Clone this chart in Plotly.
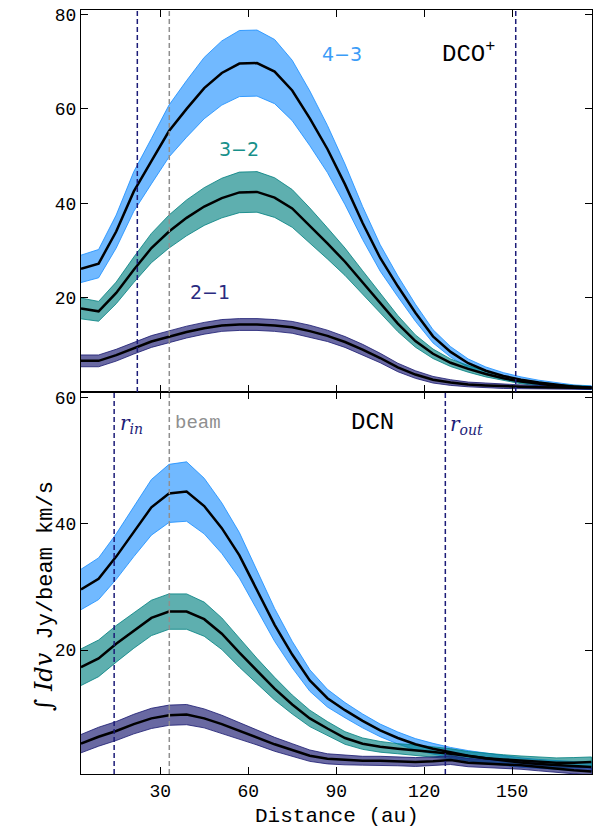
import plotly.graph_objects as go

# ---------------- data ----------------
distance = [3, 9, 15, 21, 27, 33, 39, 45, 51, 57, 63, 69, 75, 81, 87,
            93, 99, 105, 111, 117, 123, 129, 135, 141, 147, 153, 159, 165, 171, 177]

# DCO+ (top panel)
dco_43 = [26.1, 27.2, 34.0, 42.5, 48.9, 55.3, 60.0, 64.4, 67.6, 69.6, 69.7, 67.9, 63.9, 58.0, 51.5,
          44.0, 35.8, 28.4, 22.4, 16.8, 11.8, 8.5, 6.1, 4.5, 3.4, 2.6, 2.0, 1.5, 1.1, 0.9]
dco_43_err = [2.9, 3.0, 3.5, 4.2, 4.8, 5.5, 6.0, 6.5, 6.8, 7.0, 7.0, 6.8, 6.4, 5.8, 5.0,
              4.3, 3.5, 2.8, 2.2, 1.8, 1.4, 1.1, 0.9, 0.8, 0.7, 0.6, 0.5, 0.5, 0.4, 0.4]
dco_32 = [17.7, 17.1, 21.0, 25.9, 30.5, 34.0, 36.9, 39.3, 41.1, 42.3, 42.4, 41.2, 38.9, 35.3, 31.5,
          27.6, 23.2, 18.8, 14.5, 10.8, 8.1, 6.2, 4.9, 3.8, 2.9, 2.2, 1.7, 1.3, 1.1, 0.9]
dco_32_err = [2.2, 2.1, 2.3, 2.7, 3.1, 3.5, 3.8, 4.0, 4.2, 4.3, 4.3, 4.2, 4.0, 3.7, 3.3,
              2.9, 2.5, 2.1, 1.7, 1.3, 1.0, 0.8, 0.7, 0.6, 0.5, 0.45, 0.4, 0.35, 0.3, 0.3]
dco_21 = [6.6, 6.6, 7.8, 9.3, 10.7, 11.7, 12.7, 13.5, 14.1, 14.3, 14.3, 14.1, 13.7, 12.9, 11.9,
          10.6, 9.0, 7.2, 5.2, 3.7, 2.6, 2.0, 1.6, 1.4, 1.2, 1.1, 1.0, 0.95, 0.9, 0.85]
dco_21_err = [1.25, 1.25, 1.25, 1.25, 1.25, 1.25, 1.25, 1.25, 1.25, 1.25, 1.25, 1.25, 1.25, 1.25, 1.2,
              1.15, 1.1, 1.0, 0.9, 0.8, 0.7, 0.6, 0.5, 0.5, 0.45, 0.4, 0.4, 0.35, 0.35, 0.3]

# DCN (bottom panel)
dcn_43 = [29.6, 31.3, 34.8, 38.8, 42.6, 44.8, 45.1, 42.8, 39.3, 35.0, 29.6, 24.0, 19.3, 15.2, 12.4,
          10.5, 8.8, 7.3, 6.1, 5.1, 4.4, 3.8, 3.3, 2.9, 2.5, 2.2, 2.0, 1.8, 1.7, 1.5]
dcn_43_err = [3.2, 3.3, 3.6, 4.0, 4.4, 4.6, 4.7, 4.4, 4.0, 3.6, 3.1, 2.6, 2.1, 1.7, 1.4,
              1.2, 1.1, 1.0, 0.95, 0.9, 0.85, 0.8, 0.8, 0.8, 0.75, 0.75, 0.7, 0.7, 0.7, 0.7]
dcn_32 = [17.3, 18.7, 21.0, 23.1, 25.1, 26.1, 26.1, 24.9, 22.6, 19.6, 16.7, 13.9, 11.4, 9.2, 7.6,
          6.1, 5.2, 4.7, 4.4, 4.2, 3.9, 3.6, 3.2, 2.9, 2.7, 2.5, 2.3, 2.2, 2.2, 2.3]
dcn_32_err = [2.9, 2.9, 2.9, 2.8, 2.8, 2.8, 2.8, 2.7, 2.5, 2.3, 2.0, 1.8, 1.5, 1.3, 1.1,
              1.0, 0.9, 0.85, 0.8, 0.8, 0.8, 0.8, 0.75, 0.75, 0.75, 0.75, 0.75, 0.75, 0.8, 0.8]
dcn_21 = [5.2, 6.3, 7.2, 8.3, 9.2, 9.7, 9.8, 9.2, 8.3, 7.2, 6.2, 5.1, 4.2, 3.3, 2.8,
          2.6, 2.5, 2.5, 2.4, 2.3, 2.4, 2.6, 2.2, 2.0, 1.9, 1.8, 1.5, 1.2, 1.0, 0.8]
dcn_21_err = [1.45, 1.5, 1.5, 1.55, 1.6, 1.6, 1.6, 1.5, 1.4, 1.3, 1.2, 1.1, 1.0, 0.9, 0.8,
              0.75, 0.7, 0.7, 0.7, 0.7, 0.7, 0.7, 0.65, 0.65, 0.65, 0.65, 0.6, 0.6, 0.6, 0.6]

# reference radii (au)
beam = 33.1
dco_rin, dco_rout = 22.2, 151.2
dcn_rin, dcn_rout = 14.3, 127.2

transitions = ["4\u22123", "3\u22122", "2\u22121"]
x_ticks = [30, 60, 90, 120, 150]
top_yticks = [20, 40, 60, 80]
bot_yticks = [20, 40, 60]

# ---------------- styles ----------------
FILL = {"4\u22123": "rgba(30,144,255,0.63)", "3\u22122": "rgba(0,128,128,0.63)", "2\u22121": "rgba(25,25,112,0.65)"}
EDGE = {"4\u22123": "rgba(30,144,255,0.85)", "3\u22122": "rgba(0,128,128,0.8)", "2\u22121": "rgba(25,25,112,0.8)"}
LABEL = {"4\u22123": "#3b9cf7", "3\u22122": "#17908a", "2\u22121": "#2a2a80"}
NAVY = "#1c1c78"
GRAY = "#8f8f8f"
MONO = "Liberation Mono"

fig = go.Figure()


def add_panel(series, xa, ya):
    for name, vals, errs in series:
        up = [v + e for v, e in zip(vals, errs)]
        lo = [v - e for v, e in zip(vals, errs)]
        fig.add_trace(go.Scatter(
            x=distance + distance[::-1], y=up + lo[::-1], fill="toself",
            fillcolor=FILL[name], line=dict(color=EDGE[name], width=1),
            mode="lines", hoverinfo="skip", showlegend=False, xaxis=xa, yaxis=ya))
    for name, vals, errs in series:
        fig.add_trace(go.Scatter(
            x=distance, y=vals, mode="lines", name=name,
            line=dict(color="black", width=2.5), showlegend=False, xaxis=xa, yaxis=ya))


add_panel([("4\u22123", dco_43, dco_43_err), ("3\u22122", dco_32, dco_32_err),
           ("2\u22121", dco_21, dco_21_err)], "x", "y")
add_panel([("4\u22123", dcn_43, dcn_43_err), ("3\u22122", dcn_32, dcn_32_err),
           ("2\u22121", dcn_21, dcn_21_err)], "x2", "y2")

# vertical reference lines
for xv, col, xr, yr in [(dco_rin, NAVY, "x", "y domain"), (dco_rout, NAVY, "x", "y domain"),
                        (beam, GRAY, "x", "y domain"),
                        (dcn_rin, NAVY, "x2", "y2 domain"), (dcn_rout, NAVY, "x2", "y2 domain"),
                        (beam, GRAY, "x2", "y2 domain")]:
    fig.add_shape(type="line", x0=xv, x1=xv, y0=0, y1=1, xref=xr, yref=yr,
                  line=dict(color=col, width=1.5, dash="5px,3px"), layer="above")

ax_common = dict(showline=True, linecolor="black", linewidth=1.2, mirror="ticks",
                 ticks="inside", ticklen=7, tickwidth=1.2, tickcolor="black",
                 showgrid=False, zeroline=False,
                 tickfont=dict(family=MONO, size=18, color="black"))

fig.update_layout(
    width=595, height=828,
    margin=dict(l=81, r=3, t=10, b=54),
    paper_bgcolor="white", plot_bgcolor="white",
    xaxis=dict(domain=[0, 1], anchor="y", range=[3, 177.2], tickvals=x_ticks,
               showticklabels=False, **ax_common),
    yaxis=dict(domain=[0.5, 1], anchor="x", range=[0, 80.95], tickvals=top_yticks, **ax_common),
    xaxis2=dict(domain=[0, 1], anchor="y2", range=[3, 177.2], tickvals=x_ticks, **ax_common),
    yaxis2=dict(domain=[0, 0.5], anchor="x2", range=[0.4, 60.85], tickvals=bot_yticks, **ax_common),
    showlegend=False,
)

# x-axis title
fig.add_annotation(x=0.5, y=-0.055, xref="paper", yref="paper", text="Distance (au)",
                   showarrow=False, yanchor="middle",
                   font=dict(family=MONO, size=21, color="black"))

# transition labels (top panel)
label_pos = {"4\u22123": (92, 71.6), "3\u22122": (56.9, 51.4), "2\u22121": (46.9, 21.2)}
for name in transitions:
    lx, ly = label_pos[name]
    fig.add_annotation(x=lx, y=ly, xref="x", yref="y", text=name, showarrow=False,
                       font=dict(family="DejaVu Sans", size=19, color=LABEL[name]))

fig.add_annotation(x=135, y=72.0, xref="x", yref="y", text="DCO<sup>+</sup>", showarrow=False,
                   font=dict(family=MONO, size=24, color="black"))
fig.add_annotation(x=102.4, y=56.0, xref="x2", yref="y2", text="DCN", showarrow=False,
                   font=dict(family=MONO, size=24, color="black"))
fig.add_annotation(x=dcn_rin + 1.2, y=55.8, xref="x2", yref="y2", text="<i>r</i><sub><i>in</i></sub>",
                   showarrow=False, xanchor="left",
                   font=dict(family="DejaVu Serif", size=20, color=NAVY))
fig.add_annotation(x=beam + 1.2, y=55.9, xref="x2", yref="y2", text="beam",
                   showarrow=False, xanchor="left",
                   font=dict(family=MONO, size=19, color=GRAY))
fig.add_annotation(x=dcn_rout + 1.0, y=55.6, xref="x2", yref="y2", text="<i>r</i><sub><i>out</i></sub>",
                   showarrow=False, xanchor="left",
                   font=dict(family="DejaVu Serif", size=20, color=NAVY))

# y-axis title
fig.add_annotation(x=-0.102, y=0.08, xref="paper", yref="paper", textangle=-90, showarrow=False,
                   text='<span style="font-family:DejaVu Serif;font-size:24px">\u222b <i>Idv</i></span> Jy/beam km/s',
                   font=dict(family=MONO, size=22, color="black"))

fig.write_html("out.html")
